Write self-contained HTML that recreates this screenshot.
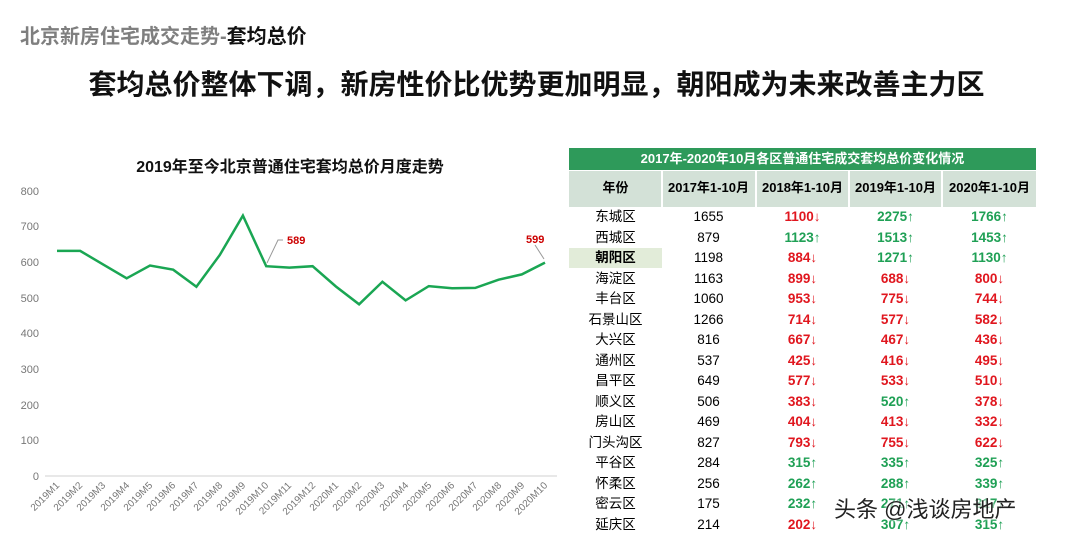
<!DOCTYPE html>
<html><head><meta charset="utf-8"><style>
body{margin:0;width:1073px;height:537px;background:#fff;position:relative;overflow:hidden;font-family:"Liberation Sans","Noto Sans CJK SC",sans-serif}
.a{position:absolute}
.r{position:absolute;left:569px;width:467px;height:20.5px;font-size:13.5px;line-height:20.5px}
.r span{position:absolute;text-align:center;width:93px}
.u{color:#1fa055;font-weight:bold}.d{color:#e0161e;font-weight:bold}
</style></head><body>
<div class="a" style="left:20px;top:20px;font-size:20px;font-weight:bold;color:#7f7f7f">北京新房住宅成交走势-<span style="color:#111">套均总价</span></div>
<div class="a" style="left:0;width:1073px;top:63px;text-align:center;font-size:28px;font-weight:bold;color:#111">套均总价整体下调，新房性价比优势更加明显，朝阳成为未来改善主力区</div>
<svg class="a" style="left:0;top:0" width="565" height="537" font-family="Liberation Sans,Noto Sans CJK SC,sans-serif">
<text x="290" y="172" text-anchor="middle" font-size="16" font-weight="bold" fill="#111">2019年至今北京普通住宅套均总价月度走势</text>
<g font-size="11" fill="#777" text-anchor="end">
<text x="39" y="480">0</text><text x="39" y="444">100</text><text x="39" y="409">200</text><text x="39" y="373">300</text><text x="39" y="337">400</text><text x="39" y="302">500</text><text x="39" y="266">600</text><text x="39" y="230">700</text><text x="39" y="195">800</text></g>
<line x1="45" y1="476" x2="557" y2="476" stroke="#d0d0d0"/>
<polyline fill="none" stroke="#1aa653" stroke-width="2.5" points="57,250.9 80.2,250.9 103.5,264.7 126.7,278.3 150,265.5 173.2,269.7 196.4,286.8 219.7,255.1 242.9,215.6 266.2,266.2 289.4,267.6 312.6,266.2 335.9,286.5 359.1,304.3 382.4,281.8 405.6,300.4 428.8,286.1 452.1,288.3 475.3,287.9 498.6,279.7 521.8,274.4 545,262.6"/>
<polyline fill="none" stroke="#999" points="267,263 278,240 283,240"/>
<polyline fill="none" stroke="#999" points="544,259 535,245"/>
<text x="287" y="244" font-size="11" font-weight="bold" fill="#c00">589</text>
<text x="526" y="243" font-size="11" font-weight="bold" fill="#c00">599</text>
<g font-size="10" fill="#777" text-anchor="end">
<text transform="translate(60,486) rotate(-45)">2019M1</text><text transform="translate(83,486) rotate(-45)">2019M2</text><text transform="translate(106,486) rotate(-45)">2019M3</text><text transform="translate(130,486) rotate(-45)">2019M4</text><text transform="translate(153,486) rotate(-45)">2019M5</text><text transform="translate(176,486) rotate(-45)">2019M6</text><text transform="translate(199,486) rotate(-45)">2019M7</text><text transform="translate(223,486) rotate(-45)">2019M8</text><text transform="translate(246,486) rotate(-45)">2019M9</text><text transform="translate(269,486) rotate(-45)">2019M10</text><text transform="translate(292,486) rotate(-45)">2019M11</text><text transform="translate(316,486) rotate(-45)">2019M12</text><text transform="translate(339,486) rotate(-45)">2020M1</text><text transform="translate(362,486) rotate(-45)">2020M2</text><text transform="translate(385,486) rotate(-45)">2020M3</text><text transform="translate(409,486) rotate(-45)">2020M4</text><text transform="translate(432,486) rotate(-45)">2020M5</text><text transform="translate(455,486) rotate(-45)">2020M6</text><text transform="translate(478,486) rotate(-45)">2020M7</text><text transform="translate(502,486) rotate(-45)">2020M8</text><text transform="translate(525,486) rotate(-45)">2020M9</text><text transform="translate(548,486) rotate(-45)">2020M10</text></g>
</svg>
<div class="a" style="left:569px;top:148px;width:467px;height:22px;background:#2e9a5a;color:#fff;font-weight:bold;font-size:13px;text-align:center;line-height:22px">2017年-2020年10月各区普通住宅成交套均总价变化情况</div>
<div class="a" style="left:569px;top:171px;width:92px;height:36px;background:#d3e1d7"></div>
<div class="a" style="left:663px;top:171px;width:92px;height:36px;background:#d3e1d7"></div>
<div class="a" style="left:757px;top:171px;width:91px;height:36px;background:#d3e1d7"></div>
<div class="a" style="left:850px;top:171px;width:91px;height:36px;background:#d3e1d7"></div>
<div class="a" style="left:943px;top:171px;width:93px;height:36px;background:#d3e1d7"></div>
<div class="r" style="top:178px;font-weight:bold;font-size:13px"><span style="left:0">年份</span><span style="left:93px">2017年1-10月</span><span style="left:187px">2018年1-10月</span><span style="left:280px">2019年1-10月</span><span style="left:374px">2020年1-10月</span></div>
<div class="a" style="left:569px;top:248px;width:93px;height:20px;background:#e2ecd9"></div>
<div class="r" style="top:207px"><span style="left:0">东城区</span><span style="left:93px">1655</span><span style="left:187px" class="d">1100↓</span><span style="left:280px" class="u">2275↑</span><span style="left:374px" class="u">1766↑</span></div>
<div class="r" style="top:227.5px"><span style="left:0">西城区</span><span style="left:93px">879</span><span style="left:187px" class="u">1123↑</span><span style="left:280px" class="u">1513↑</span><span style="left:374px" class="u">1453↑</span></div>
<div class="r" style="top:248px"><span style="left:0;font-weight:bold">朝阳区</span><span style="left:93px">1198</span><span style="left:187px" class="d">884↓</span><span style="left:280px" class="u">1271↑</span><span style="left:374px" class="u">1130↑</span></div>
<div class="r" style="top:268.5px"><span style="left:0">海淀区</span><span style="left:93px">1163</span><span style="left:187px" class="d">899↓</span><span style="left:280px" class="d">688↓</span><span style="left:374px" class="d">800↓</span></div>
<div class="r" style="top:289px"><span style="left:0">丰台区</span><span style="left:93px">1060</span><span style="left:187px" class="d">953↓</span><span style="left:280px" class="d">775↓</span><span style="left:374px" class="d">744↓</span></div>
<div class="r" style="top:309.5px"><span style="left:0">石景山区</span><span style="left:93px">1266</span><span style="left:187px" class="d">714↓</span><span style="left:280px" class="d">577↓</span><span style="left:374px" class="d">582↓</span></div>
<div class="r" style="top:330px"><span style="left:0">大兴区</span><span style="left:93px">816</span><span style="left:187px" class="d">667↓</span><span style="left:280px" class="d">467↓</span><span style="left:374px" class="d">436↓</span></div>
<div class="r" style="top:350.5px"><span style="left:0">通州区</span><span style="left:93px">537</span><span style="left:187px" class="d">425↓</span><span style="left:280px" class="d">416↓</span><span style="left:374px" class="d">495↓</span></div>
<div class="r" style="top:371px"><span style="left:0">昌平区</span><span style="left:93px">649</span><span style="left:187px" class="d">577↓</span><span style="left:280px" class="d">533↓</span><span style="left:374px" class="d">510↓</span></div>
<div class="r" style="top:391.5px"><span style="left:0">顺义区</span><span style="left:93px">506</span><span style="left:187px" class="d">383↓</span><span style="left:280px" class="u">520↑</span><span style="left:374px" class="d">378↓</span></div>
<div class="r" style="top:412px"><span style="left:0">房山区</span><span style="left:93px">469</span><span style="left:187px" class="d">404↓</span><span style="left:280px" class="d">413↓</span><span style="left:374px" class="d">332↓</span></div>
<div class="r" style="top:432.5px"><span style="left:0">门头沟区</span><span style="left:93px">827</span><span style="left:187px" class="d">793↓</span><span style="left:280px" class="d">755↓</span><span style="left:374px" class="d">622↓</span></div>
<div class="r" style="top:453px"><span style="left:0">平谷区</span><span style="left:93px">284</span><span style="left:187px" class="u">315↑</span><span style="left:280px" class="u">335↑</span><span style="left:374px" class="u">325↑</span></div>
<div class="r" style="top:473.5px"><span style="left:0">怀柔区</span><span style="left:93px">256</span><span style="left:187px" class="u">262↑</span><span style="left:280px" class="u">288↑</span><span style="left:374px" class="u">339↑</span></div>
<div class="r" style="top:494px"><span style="left:0">密云区</span><span style="left:93px">175</span><span style="left:187px" class="u">232↑</span><span style="left:280px" class="u">271↑</span><span style="left:374px" class="u">317↑</span></div>
<div class="r" style="top:514.5px"><span style="left:0">延庆区</span><span style="left:93px">214</span><span style="left:187px" class="d">202↓</span><span style="left:280px" class="u">307↑</span><span style="left:374px" class="u">315↑</span></div>
<div class="a" style="left:834px;top:492px;font-size:22px;color:#222;text-shadow:0 0 3px #fff,0 0 3px #fff">头条 @浅谈房地产</div>
</body></html>
